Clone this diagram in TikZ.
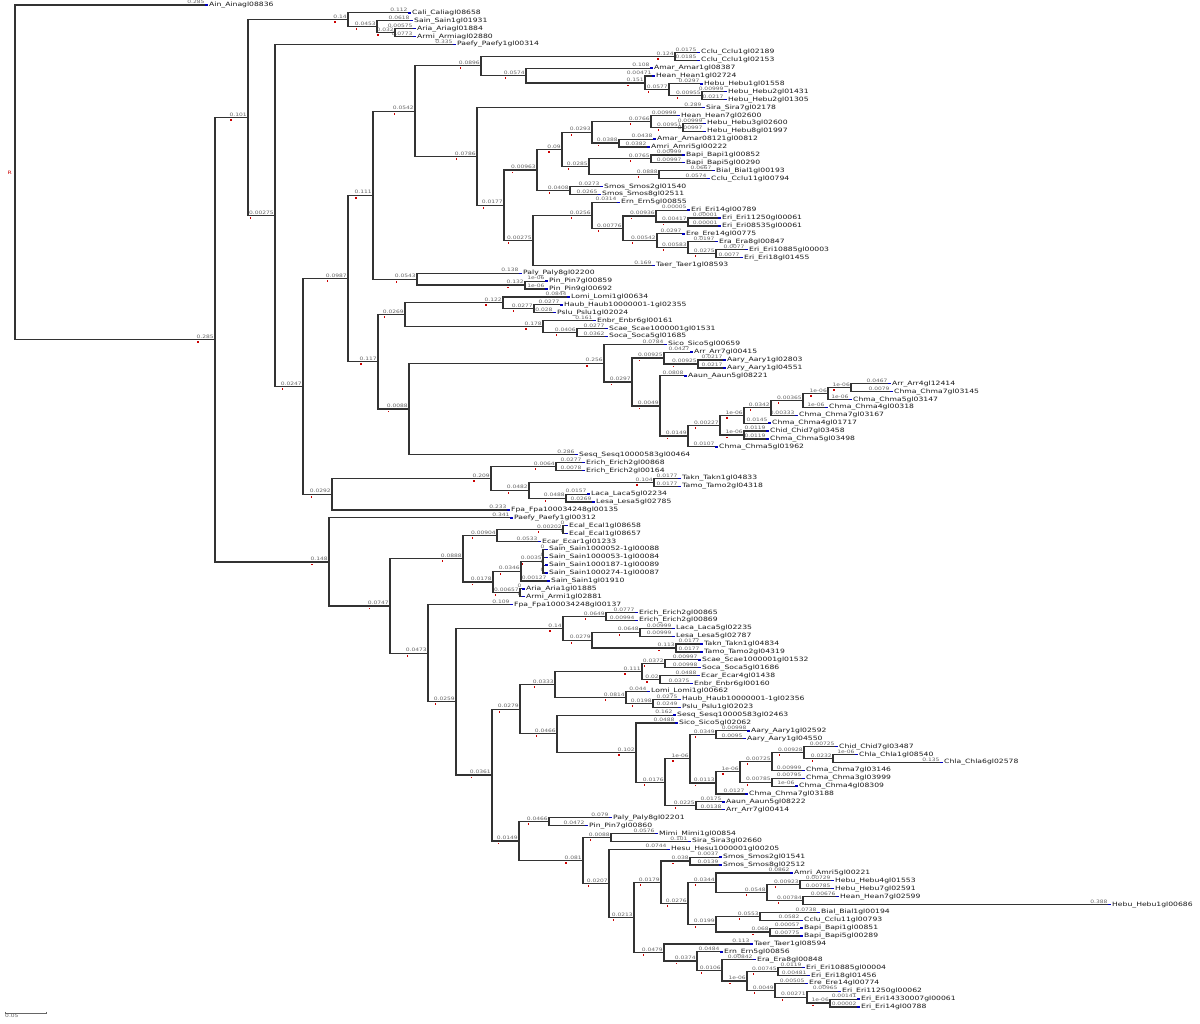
\documentclass[tikz,border=0pt]{standalone}
\usepackage{fontspec}
\setmainfont{DejaVu Sans}
\newfontfamily\lblfont[FakeStretch=1.3]{DejaVu Sans}
\usetikzlibrary{calc}
\tikzset{
  br/.style={draw=black!80, line width=1.2pt},
  blab/.style={anchor=south east, inner sep=0pt, font=\lblfont\fontsize{4.6}{5}\selectfont, text=black!60, yshift=1pt},
  llab/.style={anchor=west, inner sep=0pt, font=\lblfont\fontsize{5.9}{6}\selectfont, text=black!90},
  rmark/.style={fill=red!80!black},
  bmark/.style={fill=blue!75!black},
}
\newcommand\LF[5]{%
  \coordinate (#1) at (#3,{5+(#2-1)*7.89});
  \node[blab] at ([xshift=-0.3pt]#1) {#4};
  \fill[bmark] ([yshift=-0.7pt]#1) rectangle ++(3.4pt,1.4pt);
  \node[llab] at ([xshift=4pt]#1) {#5};
}
\newcommand\ND[5]{%
  \coordinate (tmpmid) at ($(#3)!0.5!(#4)$);
  \coordinate (#1) at (#2,0 |- tmpmid);
  \draw[br] (#1) |- (#3);
  \draw[br] (#1) |- (#4);
  \node[blab] (#1-bl) at ([xshift=-1pt]#1) {#5};
  \fill[rmark] ([xshift=1pt,yshift=-2.6pt]#1-bl.south west) rectangle ++(1.3pt,-1.8pt);
}
\catcode`\_=12
\begin{document}
\begin{tikzpicture}[x=1pt,y=-1pt]
\fill[white] (0,0) rectangle (1200,1024);
\useasboundingbox (0,0) rectangle (1200,1024);
% leaves
\LF{l1}{1}{205}{0.285}{Ain_Ainagl08836}
\LF{l2}{2}{408}{0.112}{Cali_Caliagl08658}
\LF{l3}{3}{410}{0.0618}{Sain_Sain1gl01931}
\LF{l4}{4}{413}{0.00575}{Aria_Ariagl01884}
\LF{l5}{5}{413}{0.0773}{Armi_Armiagl02880}
\LF{l6}{6}{453}{0.335}{Paefy_Paefy1gl00314}
\LF{l7}{7}{697}{0.0175}{Cclu_Cclu1gl02189}
\LF{l8}{8}{697}{0.0185}{Cclu_Cclu1gl02153}
\LF{l9}{9}{650}{0.108}{Amar_Amar1gl08387}
\LF{l10}{10}{652}{0.00471}{Hean_Hean1gl02724}
\LF{l11}{11}{700}{0.0297}{Hebu_Hebu1gl01558}
\LF{l12}{12}{724}{0.00999}{Hebu_Hebu2gl01431}
\LF{l13}{13}{724}{0.0217}{Hebu_Hebu2gl01305}
\LF{l14}{14}{702}{0.289}{Sira_Sira7gl02178}
\LF{l15}{15}{677}{0.00999}{Hean_Hean7gl02600}
\LF{l16}{16}{703}{0.00999}{Hebu_Hebu3gl02600}
\LF{l17}{17}{703}{0.00997}{Hebu_Hebu8gl01997}
\LF{l18}{18}{653}{0.0438}{Amar_Amar08121gl00812}
\LF{l19}{19}{647}{0.0382}{Amri_Amri5gl00222}
\LF{l20}{20}{682}{0.00999}{Bapi_Bapi1gl00852}
\LF{l21}{21}{682}{0.00997}{Bapi_Bapi5gl00290}
\LF{l22}{22}{712}{0.0667}{Bial_Bial1gl00193}
\LF{l23}{23}{707}{0.0574}{Cclu_Cclu11gl00794}
\LF{l24}{24}{600}{0.0273}{Smos_Smos2gl01540}
\LF{l25}{25}{598}{0.0265}{Smos_Smos8gl02511}
\LF{l26}{26}{617}{0.0314}{Ern_Ern5gl00855}
\LF{l27}{27}{687}{0.00005}{Eri_Eri14gl00789}
\LF{l28}{28}{718}{0.00001}{Eri_Eri11250gl00061}
\LF{l29}{29}{718}{0.00001}{Eri_Eri08535gl00061}
\LF{l30}{30}{682}{0.0297}{Ere_Ere14gl00775}
\LF{l31}{31}{715}{0.0197}{Era_Era8gl00847}
\LF{l32}{32}{745}{0.0077}{Eri_Eri10885gl00003}
\LF{l33}{33}{740}{0.0077}{Eri_Eri18gl01455}
\LF{l34}{34}{652}{0.169}{Taer_Taer1gl08593}
\LF{l35}{35}{519}{0.138}{Paly_Paly8gl02200}
\LF{l36}{36}{545}{1e-06}{Pin_Pin7gl00859}
\LF{l37}{37}{545}{1e-06}{Pin_Pin9gl00692}
\LF{l38}{38}{567}{0.0844}{Lomi_Lomi1gl00634}
\LF{l39}{39}{560}{0.0277}{Haub_Haub10000001-1gl02355}
\LF{l40}{40}{553}{0.028}{Pslu_Pslu1gl02024}
\LF{l41}{41}{593}{0.161}{Enbr_Enbr6gl00161}
\LF{l42}{42}{605}{0.0277}{Scae_Scae1000001gl01531}
\LF{l43}{43}{605}{0.0362}{Soca_Soca5gl01685}
\LF{l44}{44}{664}{0.0784}{Sico_Sico5gl00659}
\LF{l45}{45}{690}{0.0427}{Arr_Arr7gl00415}
\LF{l46}{46}{723}{0.0217}{Aary_Aary1gl02803}
\LF{l47}{47}{723}{0.0217}{Aary_Aary1gl04551}
\LF{l48}{48}{684}{0.0808}{Aaun_Aaun5gl08221}
\LF{l49}{49}{888}{0.0467}{Arr_Arr4gl12414}
\LF{l50}{50}{890}{0.0079}{Chma_Chma7gl03145}
\LF{l51}{51}{849}{1e-06}{Chma_Chma5gl03147}
\LF{l52}{52}{825}{1e-06}{Chma_Chma4gl00318}
\LF{l53}{53}{795}{0.00333}{Chma_Chma7gl03167}
\LF{l54}{54}{768}{0.0145}{Chma_Chma4gl01717}
\LF{l55}{55}{766}{0.0119}{Chid_Chid7gl03458}
\LF{l56}{56}{766}{0.0119}{Chma_Chma5gl03498}
\LF{l57}{57}{715}{0.0107}{Chma_Chma5gl01962}
\LF{l58}{58}{575}{0.286}{Sesq_Sesq10000583gl00464}
\LF{l59}{59}{582}{0.0277}{Erich_Erich2gl00868}
\LF{l60}{60}{582}{0.0078}{Erich_Erich2gl00164}
\LF{l61}{61}{678}{0.0177}{Takn_Takn1gl04833}
\LF{l62}{62}{678}{0.0177}{Tamo_Tamo2gl04318}
\LF{l63}{63}{587}{0.0157}{Laca_Laca5gl02234}
\LF{l64}{64}{592}{0.0269}{Lesa_Lesa5gl02785}
\LF{l65}{65}{507}{0.233}{Fpa_Fpa100034248gl00135}
\LF{l66}{66}{510}{0.341}{Paefy_Paefy1gl00312}
\LF{l67}{67}{565}{0}{Ecal_Ecal1gl08658}
\LF{l68}{68}{565}{0}{Ecal_Ecal1gl08657}
\LF{l69}{69}{538}{0.0533}{Ecar_Ecar1gl01233}
\LF{l70}{70}{545}{0}{Sain_Sain1000052-1gl00088}
\LF{l71}{71}{545}{0}{Sain_Sain1000053-1gl00084}
\LF{l72}{72}{545}{0}{Sain_Sain1000187-1gl00089}
\LF{l73}{73}{545}{0}{Sain_Sain1000274-1gl00087}
\LF{l74}{74}{547}{0.00127}{Sain_Sain1gl01910}
\LF{l75}{75}{522}{0}{Aria_Aria1gl01885}
\LF{l76}{76}{522}{0}{Armi_Armi1gl02881}
\LF{l77}{77}{510}{0.109}{Fpa_Fpa100034248gl00137}
\LF{l78}{78}{635}{0.0777}{Erich_Erich2gl00865}
\LF{l79}{79}{635}{0.00994}{Erich_Erich2gl00869}
\LF{l80}{80}{672}{0.00999}{Laca_Laca5gl02235}
\LF{l81}{81}{672}{0.00999}{Lesa_Lesa5gl02787}
\LF{l82}{82}{700}{0.0177}{Takn_Takn1gl04834}
\LF{l83}{83}{700}{0.0177}{Tamo_Tamo2gl04319}
\LF{l84}{84}{698}{0.00997}{Scae_Scae1000001gl01532}
\LF{l85}{85}{698}{0.00998}{Soca_Soca5gl01686}
\LF{l86}{86}{697}{0.0488}{Ecar_Ecar4gl01438}
\LF{l87}{87}{690}{0.0375}{Enbr_Enbr6gl00160}
\LF{l88}{88}{647}{0.044}{Lomi_Lomi1gl00662}
\LF{l89}{89}{678}{0.0275}{Haub_Haub10000001-1gl02356}
\LF{l90}{90}{678}{0.0249}{Pslu_Pslu1gl02023}
\LF{l91}{91}{673}{0.162}{Sesq_Sesq10000583gl02463}
\LF{l92}{92}{675}{0.0488}{Sico_Sico5gl02062}
\LF{l93}{93}{747}{0.00998}{Aary_Aary1gl02592}
\LF{l94}{94}{743}{0.0095}{Aary_Aary1gl04550}
\LF{l95}{95}{835}{0.00725}{Chid_Chid7gl03487}
\LF{l96}{96}{855}{1e-06}{Chla_Chla1gl08540}
\LF{l97}{97}{940}{0.135}{Chla_Chla6gl02578}
\LF{l98}{98}{802}{0.00999}{Chma_Chma7gl03146}
\LF{l99}{99}{802}{0.00795}{Chma_Chma3gl03999}
\LF{l100}{100}{795}{1e-06}{Chma_Chma4gl08309}
\LF{l101}{101}{745}{0.0127}{Chma_Chma7gl03188}
\LF{l102}{102}{722}{0.0175}{Aaun_Aaun5gl08222}
\LF{l103}{103}{722}{0.0138}{Arr_Arr7gl00414}
\LF{l104}{104}{609}{0.079}{Paly_Paly8gl02201}
\LF{l105}{105}{585}{0.0472}{Pin_Pin7gl00860}
\LF{l106}{106}{655}{0.0576}{Mimi_Mimi1gl00854}
\LF{l107}{107}{688}{0.101}{Sira_Sira3gl02660}
\LF{l108}{108}{667}{0.0744}{Hesu_Hesu1000001gl00205}
\LF{l109}{109}{719}{0.0037}{Smos_Smos2gl01541}
\LF{l110}{110}{719}{0.0139}{Smos_Smos8gl02512}
\LF{l111}{111}{790}{0.0862}{Amri_Amri5gl00221}
\LF{l112}{112}{831}{0.00729}{Hebu_Hebu4gl01553}
\LF{l113}{113}{831}{0.00785}{Hebu_Hebu7gl02591}
\LF{l114}{114}{836}{0.00676}{Hean_Hean7gl02599}
\LF{l115}{115}{1108}{0.388}{Hebu_Hebu1gl00686}
\LF{l116}{116}{817}{0.0738}{Bial_Bial1gl00194}
\LF{l117}{117}{800}{0.0582}{Cclu_Cclu11gl00793}
\LF{l118}{118}{800}{0.00057}{Bapi_Bapi1gl00851}
\LF{l119}{119}{800}{0.00775}{Bapi_Bapi5gl00289}
\LF{l120}{120}{750}{0.113}{Taer_Taer1gl08594}
\LF{l121}{121}{720}{0.0484}{Ern_Ern5gl00856}
\LF{l122}{122}{753}{0.00842}{Era_Era8gl00848}
\LF{l123}{123}{802}{0.0119}{Eri_Eri10885gl00004}
\LF{l124}{124}{807}{0.00481}{Eri_Eri18gl01456}
\LF{l125}{125}{805}{0.00505}{Ere_Ere14gl00774}
\LF{l126}{126}{838}{0.00965}{Eri_Eri11250gl00062}
\LF{l127}{127}{857}{0.00141}{Eri_Eri14330007gl00061}
\LF{l128}{128}{857}{0.00002}{Eri_Eri14gl00788}
% internal nodes, upper clade
\ND{E}{395}{l4}{l5}{0.032}
\ND{D}{377}{l3}{E}{0.0453}
\ND{C}{348}{l2}{D}{0.14}
\ND{Q}{675}{l7}{l8}{0.124}
\ND{RC}{702}{l12}{l13}{0.00955}
\ND{RB}{669}{l11}{RC}{0.0577}
\ND{RA}{645}{l10}{RB}{0.151}
\ND{R}{526}{l9}{RA}{0.0574}
\ND{O}{481}{Q}{R}{0.0896}
\ND{AE}{683}{l16}{l17}{0.00951}
\ND{AC}{651}{l15}{AE}{0.0766}
\ND{AD}{619}{l18}{l19}{0.0388}
\ND{AA}{592}{AC}{AD}{0.0293}
\ND{AF}{651}{l20}{l21}{0.0765}
\ND{AG}{659}{l22}{l23}{0.0888}
\ND{AB}{589}{AF}{AG}{0.0285}
\ND{Y}{562}{AA}{AB}{0.09}
\ND{Z}{570}{l24}{l25}{0.0408}
\ND{U}{537}{Y}{Z}{0.00963}
\ND{AK}{688}{l28}{l29}{0.00417}
\ND{AI}{656}{l27}{AK}{0.00936}
\ND{AM}{716}{l32}{l33}{0.0275}
\ND{AL}{688}{l31}{AM}{0.00583}
\ND{AJ}{657}{l30}{AL}{0.00542}
\ND{AH}{623}{AI}{AJ}{0.00776}
\ND{W}{592}{l26}{AH}{0.0256}
\ND{V}{533}{W}{l34}{0.00275}
\ND{T}{504}{U}{V}{0.0177}
\ND{P}{477}{l14}{T}{0.0786}
\ND{M}{415}{O}{P}{0.0542}
\ND{AN}{525}{l36}{l37}{0.132}
\ND{N}{417}{l35}{AN}{0.0543}
\ND{K}{373}{M}{N}{0.111}
\ND{AR}{534}{l39}{l40}{0.0277}
\ND{AP}{503}{l38}{AR}{0.122}
\ND{AS}{577}{l42}{l43}{0.0406}
\ND{AQ}{543}{l41}{AS}{0.178}
\ND{AO}{405}{AP}{AQ}{0.0269}
\ND{AY}{698}{l46}{l47}{0.00925}
\ND{AW}{664}{l45}{AY}{0.00925}
\ND{BH}{851}{l49}{l50}{1e-06}
\ND{BG}{828}{BH}{l51}{1e-06}
\ND{BF}{803}{BG}{l52}{0.00365}
\ND{BD}{771}{BF}{l53}{0.0342}
\ND{BB}{744}{BD}{l54}{1e-06}
\ND{BI}{744}{l55}{l56}{1e-06}
\ND{BA}{720}{BB}{BI}{0.00227}
\ND{AZ}{688}{BA}{l57}{0.0149}
\ND{AX}{660}{l48}{AZ}{0.0049}
\ND{AV}{632}{AW}{AX}{0.0297}
\ND{AU}{604}{l44}{AV}{0.256}
\ND{AT}{409}{AU}{l58}{0.0088}
\ND{L}{378}{AO}{AT}{0.117}
\ND{I}{348}{K}{L}{0.0987}
\ND{BM}{556}{l59}{l60}{0.0064}
\ND{BO}{654}{l61}{l62}{0.104}
\ND{BP}{566}{l63}{l64}{0.0488}
\ND{BN}{529}{BO}{BP}{0.0482}
\ND{BL}{491}{BM}{BN}{0.209}
\ND{J}{332}{BL}{l65}{0.0292}
\ND{H}{303}{I}{J}{0.0247}
\ND{F}{275}{l6}{H}{0.00275}
\ND{B}{248}{C}{F}{0.101}
% lower clade
\ND{BV}{563}{l67}{l68}{0.00202}
\ND{BT}{497}{BV}{l69}{0.00904}
\coordinate (tmpmid) at ($(l70)!0.5!(l73)$);
\coordinate (BY) at (543,0 |- tmpmid);
\foreach \c in {l70,l71,l72,l73} \draw[br] (BY) |- (\c);
\node[blab] (BY-bl) at ([xshift=-1pt]BY) {0.0035};
\fill[rmark] ([xshift=1pt,yshift=-2.6pt]BY-bl.south west) rectangle ++(1.3pt,-1.8pt);
\ND{BW}{521}{BY}{l74}{0.0346}
\ND{BX}{520}{l75}{l76}{0.00657}
\ND{BU}{493}{BW}{BX}{0.0178}
\ND{BR}{463}{BT}{BU}{0.0888}
\ND{CC}{606}{l78}{l79}{0.0649}
\ND{CE}{640}{l80}{l81}{0.0648}
\ND{CF}{676}{l82}{l83}{0.113}
\ND{CD}{592}{CE}{CF}{0.0279}
\ND{CA}{563}{CC}{CD}{0.14}
\ND{DK}{665}{l84}{l85}{0.0372}
\ND{DL}{660}{l86}{l87}{0.02}
\ND{DI}{642}{DK}{DL}{0.111}
\ND{DM}{653}{l89}{l90}{0.0198}
\ND{DJ}{626}{l88}{DM}{0.0814}
\ND{DG}{555}{DI}{DJ}{0.0333}
\ND{DR}{716}{l93}{l94}{0.0349}
\ND{DU}{833}{l96}{l97}{0.0232}
\ND{DT}{804}{l95}{DU}{0.00928}
\ND{DX}{772}{DT}{l98}{0.00725}
\ND{DW}{772}{l99}{l100}{0.00785}
\ND{DV}{740}{DX}{DW}{1e-06}
\ND{DS}{716}{DV}{l101}{0.0113}
\ND{DP}{690}{DR}{DS}{1e-06}
\ND{DQ}{696}{l102}{l103}{0.0225}
\ND{DO}{665}{DP}{DQ}{0.0176}
\ND{DN}{636}{l92}{DO}{0.102}
\ND{DH}{557}{l91}{DN}{0.0466}
\ND{CG}{520}{DG}{DH}{0.0279}
\ND{CJ}{549}{l104}{l105}{0.0466}
\ND{CL}{611}{l106}{l107}{0.0088}
\ND{CV}{800}{l112}{l113}{0.00923}
\ND{CW}{803}{l114}{l115}{0.00784}
\ND{CU}{767}{CV}{CW}{0.0548}
\ND{CS}{716}{l111}{CU}{0.0344}
\ND{CX}{760}{l116}{l117}{0.0553}
\ND{CY}{770}{l118}{l119}{0.068}
\ND{CT}{716}{CX}{CY}{0.0199}
\ND{CR}{688}{CS}{CT}{0.0276}
\ND{CQ}{690}{l109}{l110}{0.038}
\ND{CO}{661}{CQ}{CR}{0.0179}
\ND{DC}{778}{l123}{l124}{0.00745}
\ND{DF}{830}{l127}{l128}{1e-06}
\ND{DE}{807}{l126}{DF}{0.00271}
\ND{DD}{775}{l125}{DE}{0.0049}
\ND{DB}{747}{DC}{DD}{1e-06}
\ND{DA}{722}{l122}{DB}{0.0106}
\ND{CZ}{697}{l121}{DA}{0.0374}
\ND{CP}{664}{l120}{CZ}{0.0479}
\ND{CN}{634}{CO}{CP}{0.0213}
\ND{CM}{609}{l108}{CN}{0.0207}
\ND{CK}{583}{CL}{CM}{0.081}
\ND{CI}{519}{CJ}{CK}{0.0149}
\ND{CB}{492}{CG}{CI}{0.0361}
\ND{BZ}{456}{CA}{CB}{0.0259}
\ND{BS}{428}{l77}{BZ}{0.0473}
\ND{BQ}{390}{BR}{BS}{0.0747}
\ND{G}{329}{l66}{BQ}{0.148}
\ND{A}{215}{B}{G}{0.285}
% root
\coordinate (tmpmid) at ($(l1)!0.5!(A)$);
\coordinate (root) at (15,0 |- tmpmid);
\draw[br] (root) |- (l1);
\draw[br] (root) |- (A);
\node[text=red!80!black, font=\lblfont\fontsize{4.6}{5}\selectfont, anchor=east, inner sep=0pt] (rootmark) at ([xshift=-3pt]root) {R};
% scale bar
\coordinate (sb1) at (5,1013);
\coordinate (sb2) at (46,1013);
\draw[black!60, line width=0.6pt] (sb1) -- (sb2);
\draw[black!60, line width=0.6pt] ([yshift=1.2pt]sb1) -- ([yshift=-1.2pt]sb1);
\draw[black!60, line width=0.6pt] ([yshift=1.2pt]sb2) -- ([yshift=-1.2pt]sb2);
\node[blab, anchor=north west, yshift=-1.5pt] (sblab) at (sb1) {0.05};
\end{tikzpicture}
\end{document}
